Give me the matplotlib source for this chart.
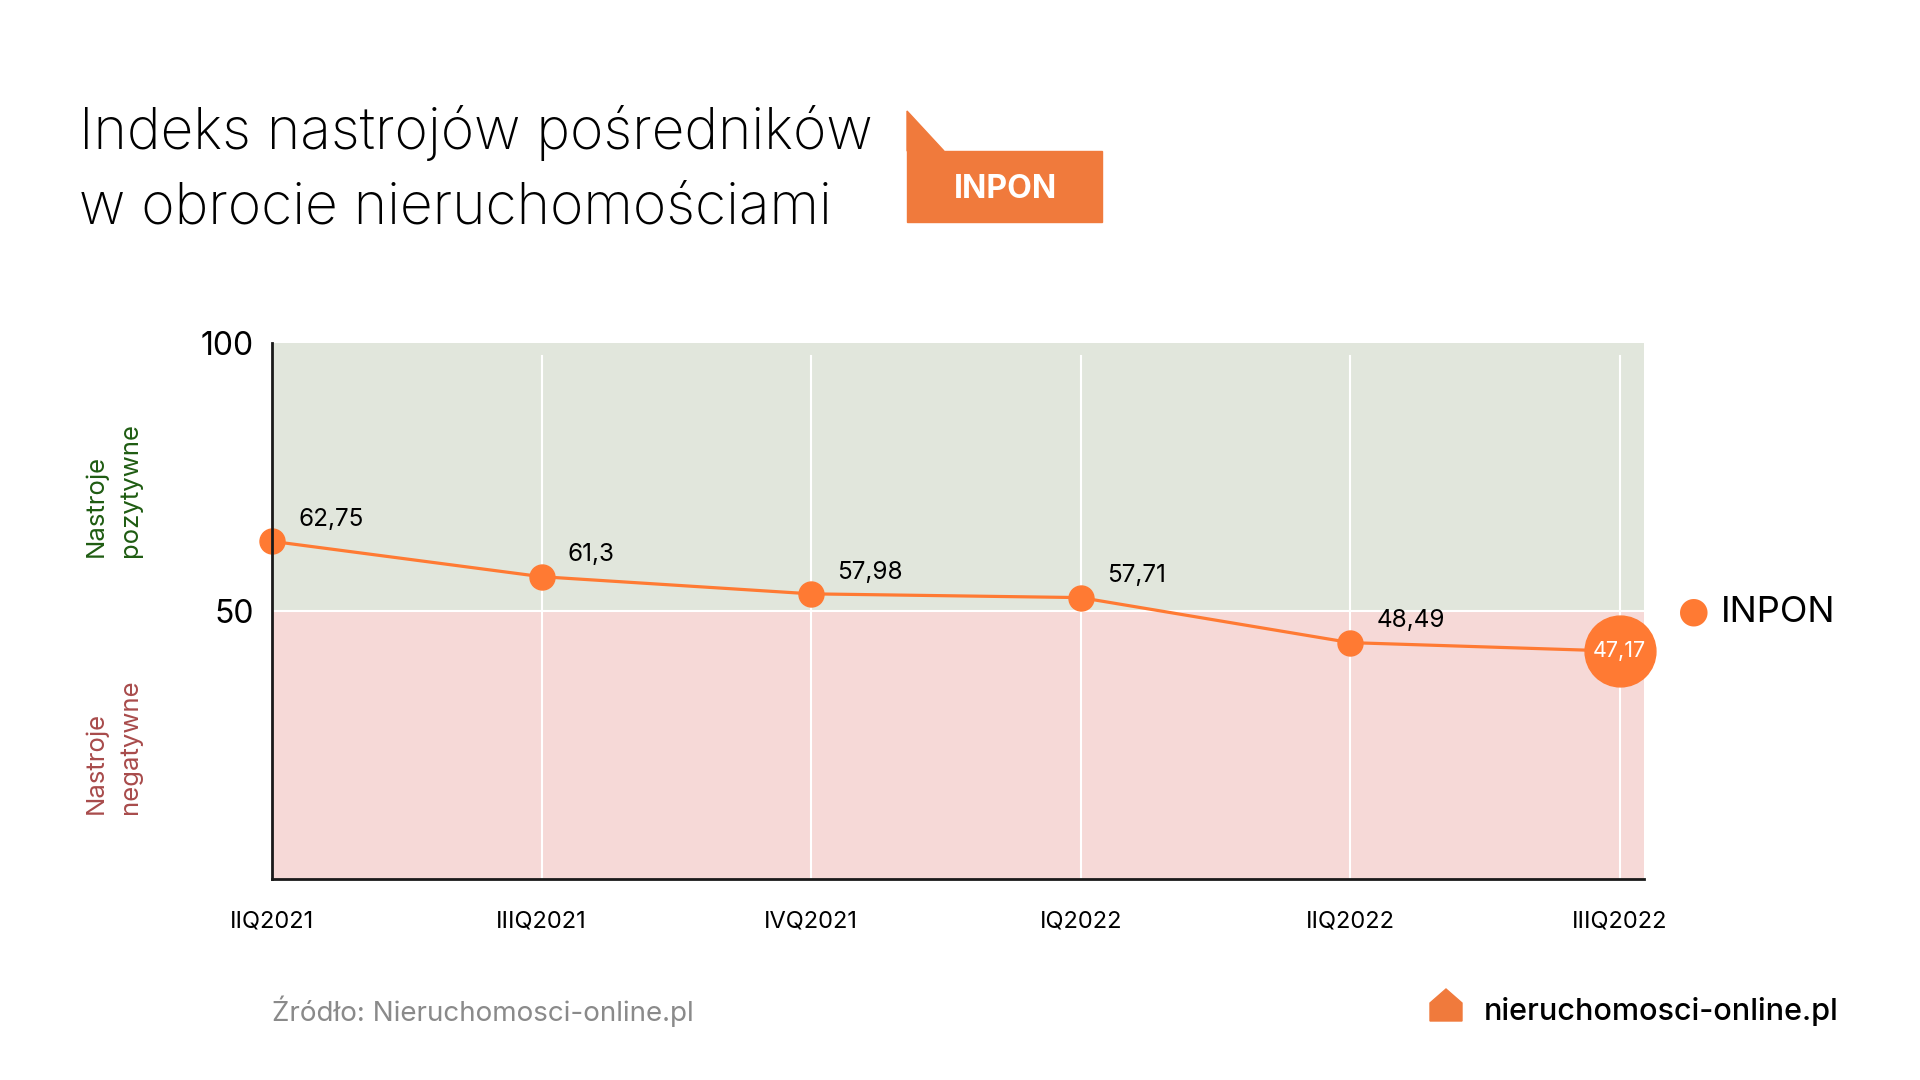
import matplotlib
matplotlib.use('Agg')
import matplotlib.pyplot as plt
from matplotlib.patches import Polygon, Rectangle

plt.rcParams['font.family'] = ['Inter', 'DejaVu Sans']

# data
quarters = ['IIQ2021', 'IIIQ2021', 'IVQ2021', 'IQ2022', 'IIQ2022', 'IIIQ2022']
# value labels as printed in the graphic
inpon_labels = ['62,75', '61,3', '57,98', '57,71', '48,49', '47,17']
# point heights as drawn in the source graphic
inpon_y = [63.0, 56.4, 53.2, 52.5, 44.1, 42.5]
y_ticks = [50, 100]

orange = '#FF7A33'
badge_orange = '#F07A3C'
green_bg = '#E1E6DC'
pink_bg = '#F6D9D7'

fig = plt.figure(figsize=(19.2, 10.8), dpi=100)
fig.patch.set_facecolor('white')

ax = fig.add_axes([272 / 1920, 201 / 1080, 1372 / 1920, 536 / 1080])
x = list(range(len(quarters)))
ax.set_xlim(0, 5.09)
ax.set_ylim(0, 100)

# background bands
ax.axhspan(50, 100, color=green_bg, zorder=0, lw=0)
ax.axhspan(0, 50, color=pink_bg, zorder=0, lw=0)
ax.axhline(50, color='white', lw=1.5, zorder=1)
for xi in x:
    ax.axvline(xi, ymax=0.975, color='white', lw=1.5, zorder=1)

ax.plot(x, inpon_y, color=orange, lw=2.3, zorder=3)
ax.plot(x[:-1], inpon_y[:-1], 'o', color=orange, ms=18, zorder=4, clip_on=False)
ax.plot(x[-1], inpon_y[-1], 'o', color=orange, ms=51, zorder=4, clip_on=False)

for xi, yi, lab in zip(x[:-1], inpon_y[:-1], inpon_labels[:-1]):
    ax.annotate(lab, (xi, yi), xytext=(19, 11), textcoords='offset points',
                ha='left', va='baseline', fontsize=17.5, color='black', zorder=5)
ax.text(x[-1], inpon_y[-1], inpon_labels[-1], ha='center', va='center',
        fontsize=15.5, color='white', zorder=5)

ax.set_yticks(y_ticks)
ax.set_yticklabels([str(v) for v in y_ticks], fontsize=23)
ax.set_xticks(x)
ax.set_xticklabels(quarters, fontsize=17)
ax.tick_params(axis='both', length=0)
ax.tick_params(axis='y', pad=13)
ax.tick_params(axis='x', pad=23)
for side in ['top', 'right']:
    ax.spines[side].set_visible(False)
for side in ['left', 'bottom']:
    ax.spines[side].set_linewidth(2)
    ax.spines[side].set_color('#1a1a1a')
    ax.spines[side].set_zorder(6)

# side labels
fig.text(113 / 1920, 1 - 490 / 1080, 'Nastroje\npozytywne', rotation=90,
         ha='center', va='center', multialignment='left', fontsize=18.5,
         color='#1F5C12', linespacing=1.6)
fig.text(113 / 1920, 1 - 747 / 1080, 'Nastroje\nnegatywne', rotation=90,
         ha='center', va='center', multialignment='left', fontsize=18.5,
         color='#A84B4B', linespacing=1.6)

# title
fig.text(79 / 1920, 1 - 149 / 1080, 'Indeks nastrojów pośredników',
         fontsize=41, fontweight='light', va='baseline', ha='left')
fig.text(79 / 1920, 1 - 224 / 1080, 'w obrocie nieruchomościami',
         fontsize=41, fontweight='light', va='baseline', ha='left')

# INPON badge
fig.patches.append(Rectangle((907 / 1920, 1 - 222 / 1080), 195 / 1920, 71 / 1080,
                             transform=fig.transFigure, color=badge_orange))
fig.patches.append(Polygon([(907 / 1920, 1 - 111 / 1080), (944 / 1920, 1 - 151 / 1080),
                            (907 / 1920, 1 - 151 / 1080)], closed=True,
                           transform=fig.transFigure, color=badge_orange))
fig.text(1005 / 1920, 1 - 189 / 1080, 'INPON', fontsize=23, fontweight='bold',
         color='white', ha='center', va='center')

# legend
fig.text(1694 / 1920, 1 - 612 / 1080, '●', fontsize=26, color=orange,
         ha='center', va='center', family='DejaVu Sans')
fig.text(1721 / 1920, 1 - 613 / 1080, 'INPON', fontsize=26, ha='left', va='center')

# footer
fig.text(272 / 1920, 1 - 1011 / 1080, 'Źródło: Nieruchomosci-online.pl',
         fontsize=20, color='#8A8A8A', ha='left', va='center')
fig.patches.append(Polygon([(1430 / 1920, 1 - 1021 / 1080), (1430 / 1920, 1 - 1003 / 1080),
                            (1446 / 1920, 1 - 989 / 1080), (1462 / 1920, 1 - 1003 / 1080),
                            (1462 / 1920, 1 - 1021 / 1080)], closed=True,
                           transform=fig.transFigure, color=badge_orange))
fig.text(1839 / 1920, 1 - 1011 / 1080, 'nieruchomosci-online.pl',
         fontsize=22, fontweight='medium', ha='right', va='center')

fig.savefig('out.png', dpi=100)
